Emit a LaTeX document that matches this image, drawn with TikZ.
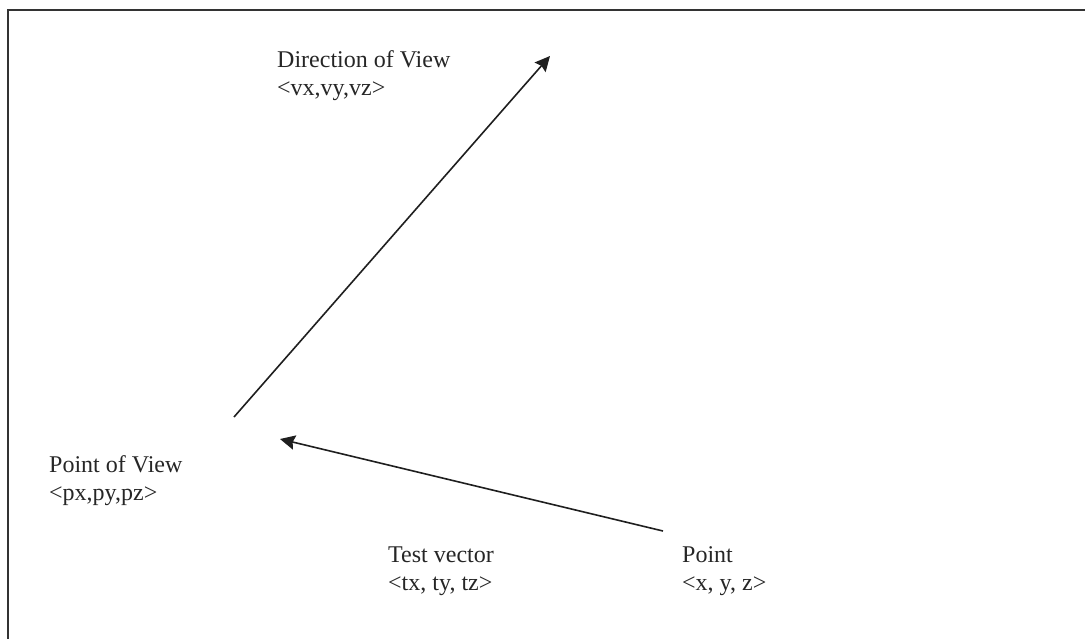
\documentclass[tikz,border=0pt]{standalone}
\usepackage{fontspec}
\setmainfont{Liberation Serif}
\usetikzlibrary{arrows.meta}
\begin{document}
\begin{tikzpicture}[x=1pt,y=-1pt,
  lbl/.style={anchor=base west,inner sep=0pt,font=\fontsize{24}{28}\selectfont,text=black!85},
  vec/.style={line width=1.6pt,draw=black!88,-{Stealth[length=15pt,width=14.5pt,inset=2pt]}},
  frame/.style={line width=2pt,draw=black!80}]
\useasboundingbox (0,0) rectangle (1085,638);
\draw[frame] (7.5,640) -- (7.5,9.5) -- (1086,9.5);
% labels
\node[lbl] (dov1) at (277,67) {Direction of View};
\node[lbl] (dov2) at (277,95) {<vx,vy,vz>};
\node[lbl] (pov1) at (49,472) {Point of View};
\node[lbl] (pov2) at (49,500) {<px,py,pz>};
\node[lbl] (tv1) at (388,562) {Test vector};
\node[lbl] (tv2) at (388,590) {<tx, ty, tz>};
\node[lbl] (pt1) at (682,562) {Point};
\node[lbl] (pt2) at (682,590) {<x, y, z>};
% connectors
\coordinate (povstart) at (234,417);
\coordinate (dirtip) at (550,56);
\coordinate (pttail) at (663,531);
\coordinate (povtip) at (280,439);
\draw[vec] (povstart) -- (dirtip);
\draw[vec] (pttail) -- (povtip);
\end{tikzpicture}
\end{document}
